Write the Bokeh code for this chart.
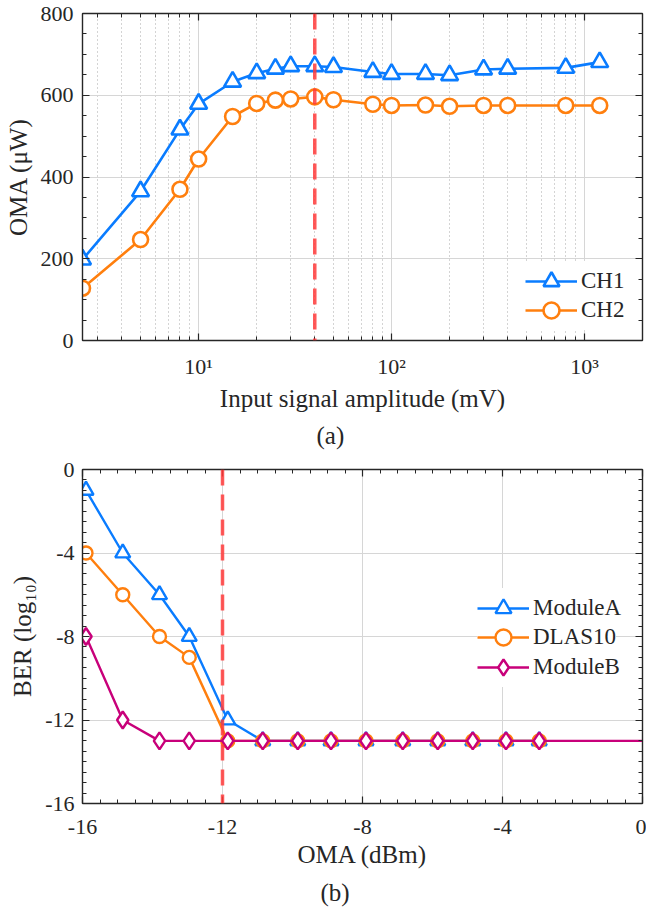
from bokeh.plotting import figure
from bokeh.models import (Span, Legend, LegendItem, LinearAxis, LogAxis, FixedTicker,
                          SingleIntervalTicker, Title)
from bokeh.layouts import column
from bokeh.embed import file_html
from bokeh.resources import INLINE

FONT = "'Liberation Serif', 'Times New Roman', serif"
INK = "#262626"

# ---------------- data: panel (a) ----------------
amp_mv = [2.5, 5, 8, 10, 15, 20, 25, 30, 40, 50, 80, 100, 150, 200, 300, 400, 800, 1200]
ch1_uw = [198, 365, 516, 579, 633, 654, 665, 671, 671, 669, 657, 652, 652, 649, 663, 665, 667, 681]
ch2_uw = [128, 247, 370, 444, 548, 580, 588, 591, 596, 589, 578, 575, 576, 573, 575, 575, 575, 575]
threshold_mv = 40
x_ticks_a = [10, 100, 1000]
x_tick_labels_a = ["10\u00b9", "10\u00b2", "10\u00b3"]
x_minor_a = [3, 4, 5, 6, 7, 8, 9, 20, 30, 40, 50, 60, 70, 80, 90, 200, 300, 400, 500, 600, 700, 800, 900]

# ---------------- data: panel (b) ----------------
oma_dbm = [-15.9, -14.85, -13.8, -12.95, -11.85, -10.85, -9.85, -8.9, -7.9, -6.85, -5.85, -4.85, -3.9, -2.95]
moduleA_ber = [-1, -4, -6, -8, -12, -13, -13, -13, -13, -13, -13, -13, -13, -13]
dlas10_ber = [-4, -6, -8, -9, -13, -13, -13, -13, -13, -13, -13, -13, -13, -13]
moduleB_ber = [-8, -12, -13, -13, -13, -13, -13, -13, -13, -13, -13, -13, -13, -13]
moduleB_line_x = oma_dbm + [0]
moduleB_line_y = moduleB_ber + [-13]
threshold_dbm = -12
x_ticks_b = [-16, -12, -8, -4, 0]
x_tick_labels_b = ["-16", "-12", "-8", "-4", "0"]
y_ticks_b = [-16, -12, -8, -4, 0]
y_tick_labels_b = ["-16", "-12", "-8", "-4", "0"]

BLUE = "#0A7CFF"
ORANGE = "#FF7F0E"
MAGENTA = "#C8007A"
RED = "#FF3B3B"

TICK_FS = "22px"
LABEL_FS = "25px"
LEGEND_FS = "23px"


def style_axis(ax, show_labels=True):
    ax.axis_line_color = INK
    ax.axis_line_width = 1.4
    ax.major_tick_in = 7
    ax.major_tick_out = 0
    ax.minor_tick_in = 4
    ax.minor_tick_out = 0
    ax.major_tick_line_color = INK
    ax.minor_tick_line_color = INK
    ax.major_tick_line_width = 1.2
    ax.minor_tick_line_width = 1.0
    ax.major_label_text_font = FONT
    ax.major_label_text_color = INK
    ax.axis_label_text_font = FONT
    ax.axis_label_text_font_style = "normal"
    ax.axis_label_text_color = INK
    ax.axis_label_text_font_size = LABEL_FS
    if show_labels:
        ax.major_label_text_font_size = TICK_FS
    else:
        ax.major_label_text_font_size = "2px"
        ax.major_label_text_alpha = 0
        ax.major_label_standoff = 0


def single_legend(label, renderers, loc):
    leg = Legend(items=[LegendItem(label=label, renderers=renderers)], location=loc)
    leg.label_text_font = FONT
    leg.label_text_font_size = LEGEND_FS
    leg.label_text_color = INK
    leg.border_line_alpha = 0
    leg.background_fill_color = "white"
    leg.background_fill_alpha = 1.0
    leg.glyph_width = 52
    leg.glyph_height = 40
    leg.label_height = 29
    leg.label_standoff = 4
    leg.spacing = 0
    leg.padding = 0
    leg.margin = 0
    return leg


# ======================= panel (a) =======================
p1 = figure(width=646, height=455, x_axis_type="log", x_range=(2.5, 2000), y_range=(0, 800),
            output_backend="svg", toolbar_location=None,
            min_border_left=82, min_border_right=1, min_border_top=13, min_border_bottom=115)
p1.outline_line_color = INK
p1.background_fill_color = "white"

xt1 = FixedTicker(ticks=x_ticks_a, minor_ticks=x_minor_a)
yt1 = SingleIntervalTicker(interval=200, num_minor_ticks=4)
p1.xaxis.ticker = xt1
p1.yaxis.ticker = yt1
p1.xaxis.major_label_overrides = {t: l for t, l in zip(x_ticks_a, x_tick_labels_a)}
p1.xaxis.axis_label = "Input signal amplitude (mV)"
p1.yaxis.axis_label = "OMA (\u03bcW)"
style_axis(p1.xaxis[0])
style_axis(p1.yaxis[0])
p1.xaxis.major_label_standoff = 13
p1.xaxis.axis_label_standoff = 3
p1.yaxis.major_label_standoff = 9
p1.yaxis.axis_label_standoff = 6

top_ax = LogAxis(ticker=xt1)
right_ax = LinearAxis(ticker=yt1)
style_axis(top_ax, show_labels=False)
style_axis(right_ax, show_labels=False)
p1.add_layout(top_ax, "above")
p1.add_layout(right_ax, "right")

p1.xgrid.grid_line_color = "#D6D6D6"
p1.ygrid.grid_line_color = "#D6D6D6"
p1.xgrid.minor_grid_line_color = "#A8A8A8"
p1.xgrid.minor_grid_line_dash = "1 3"

l1 = p1.line(amp_mv, ch1_uw, line_color=BLUE, line_width=2.6)
m1 = p1.scatter(amp_mv, ch1_uw, marker="triangle", size=17, line_color=BLUE, line_width=2.6,
                fill_color="white")
l2 = p1.line(amp_mv, ch2_uw, line_color=ORANGE, line_width=2.6)
m2 = p1.scatter(amp_mv, ch2_uw, marker="circle", size=15, line_color=ORANGE, line_width=2.6,
                fill_color="white")
p1.add_layout(Span(location=threshold_mv, dimension="height", line_color=RED, line_width=3.5,
                   line_alpha=0.85, line_dash="16 9"))

p1.add_layout(single_legend("CH1", [l1, m1], (443, 39)))
p1.add_layout(single_legend("CH2", [l2, m2], (443, 10)))
p1.add_layout(Title(text="(a)", align="left", offset=234, text_font=FONT, text_font_size=LABEL_FS,
                    text_font_style="normal", text_color=INK, standoff=11), "below")

# ======================= panel (b) =======================
p2 = figure(width=646, height=458, x_range=(-16, 0), y_range=(-16, 0),
            output_backend="svg", toolbar_location=None,
            min_border_left=80, min_border_right=4, min_border_top=14, min_border_bottom=110)
p2.outline_line_color = INK
p2.background_fill_color = "white"

xt2 = FixedTicker(ticks=x_ticks_b, minor_ticks=[v / 2 for v in range(-32, 1)])
yt2 = FixedTicker(ticks=y_ticks_b, minor_ticks=[v / 2 for v in range(-32, 1)])
p2.xaxis.ticker = xt2
p2.yaxis.ticker = yt2
p2.xaxis.major_label_overrides = {t: l for t, l in zip(x_ticks_b, x_tick_labels_b)}
p2.yaxis.major_label_overrides = {t: l for t, l in zip(y_ticks_b, y_tick_labels_b)}
p2.xaxis.axis_label = "OMA (dBm)"
p2.yaxis.axis_label = "BER (log\u2081\u2080)"
style_axis(p2.xaxis[0])
style_axis(p2.yaxis[0])
p2.xaxis.major_label_standoff = 16
p2.xaxis.axis_label_standoff = 4
p2.yaxis.major_label_standoff = 8
p2.yaxis.axis_label_standoff = 6

top_ax2 = LinearAxis(ticker=xt2)
right_ax2 = LinearAxis(ticker=yt2)
style_axis(top_ax2, show_labels=False)
style_axis(right_ax2, show_labels=False)
p2.add_layout(top_ax2, "above")
p2.add_layout(right_ax2, "right")

p2.xgrid.grid_line_color = "#D6D6D6"
p2.ygrid.grid_line_color = "#D6D6D6"

la = p2.line(oma_dbm, moduleA_ber, line_color=BLUE, line_width=2.4)
ma = p2.scatter(oma_dbm, moduleA_ber, marker="triangle", size=15, line_color=BLUE, line_width=2.4,
                fill_color="white")
ld = p2.line(oma_dbm, dlas10_ber, line_color=ORANGE, line_width=2.4)
md = p2.scatter(oma_dbm, dlas10_ber, marker="circle", size=13, line_color=ORANGE, line_width=2.4,
                fill_color="white")
lb = p2.line(moduleB_line_x, moduleB_line_y, line_color=MAGENTA, line_width=2.4)
mb = p2.scatter(oma_dbm, moduleB_ber, marker="diamond", size=17, line_color=MAGENTA, line_width=2.4,
                fill_color="white")
p2.add_layout(Span(location=threshold_dbm, dimension="height", line_color=RED, line_width=3.5,
                   line_alpha=0.85, line_dash="16 9"))

p2.add_layout(single_legend("ModuleA", [la, ma], (395, 175)))
p2.add_layout(single_legend("DLAS10", [ld, md], (395, 146)))
p2.add_layout(single_legend("ModuleB", [lb, mb], (395, 116)))
p2.add_layout(Title(text="(b)", align="left", offset=238, text_font=FONT, text_font_size=LABEL_FS,
                    text_font_style="normal", text_color=INK, standoff=12), "below")

layout = column(p1, p2)
open("out.html", "w").write(file_html(layout, INLINE))
